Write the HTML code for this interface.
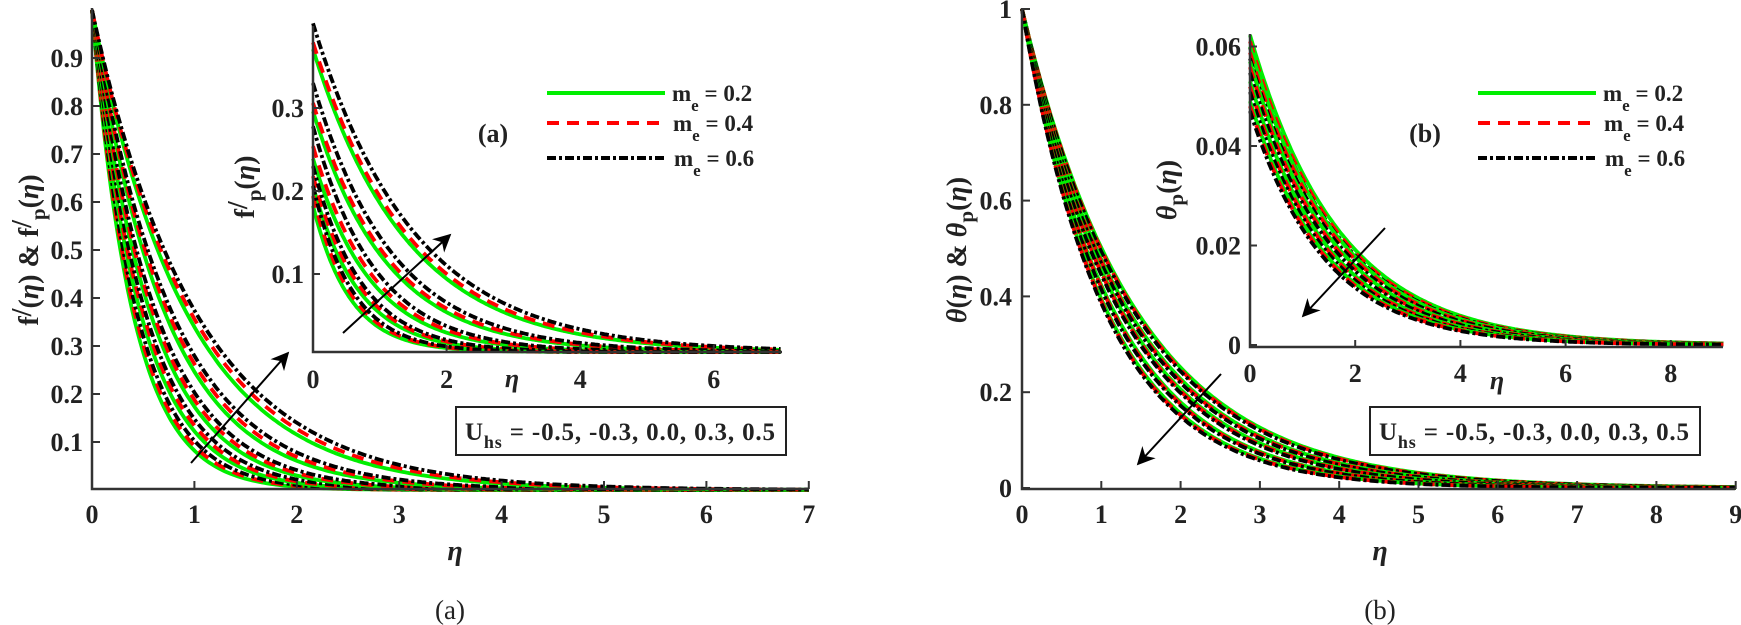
<!DOCTYPE html>
<html><head><meta charset="utf-8">
<style>
html,body{margin:0;padding:0;background:#fff;}
svg{display:block;}
text{font-family:"Liberation Serif","Times New Roman",serif;font-weight:bold;fill:#222;}
.it{font-style:italic;}
</style></head><body>
<svg id="s" width="1741" height="625" viewBox="0 0 1741 625" xmlns="http://www.w3.org/2000/svg">
<defs>
<marker id="ah" viewBox="0 0 10 10" refX="9" refY="5" markerWidth="9" markerHeight="9" orient="auto">
<path d="M0,0 L10,5 L0,10 L3,5 z" fill="#000"/></marker>
</defs>
<g id="curves"></g>

<g stroke="#333" stroke-width="2.5" fill="none">
<path d="M92,8 L92,489 L809,489"/>
<path d="M1022,8 L1022,489 L1735,489"/>
<path d="M313,26 L313,352 L782,352"/>
<path d="M1250,34 L1250,347 L1723,347"/>
</g>
<g id="ticks" stroke="#333" stroke-width="2"></g>

<text x="455" y="560" class="it" font-size="28" text-anchor="middle">η</text>
<text x="1380" y="560" class="it" font-size="28" text-anchor="middle">η</text>
<text x="450" y="619" font-size="27" text-anchor="middle" style="font-weight:normal">(a)</text>
<text x="1380" y="619" font-size="27" text-anchor="middle" style="font-weight:normal">(b)</text>

<text transform="translate(38,250) rotate(-90)" font-size="28" text-anchor="middle">f<tspan dy="-7">/</tspan><tspan dy="7">(</tspan><tspan class="it">η</tspan>) &amp; f<tspan dy="-7">/</tspan><tspan dy="14" font-size="21">p</tspan><tspan dy="-7">(</tspan><tspan class="it">η</tspan>)</text>
<text transform="translate(254,187) rotate(-90)" font-size="28" text-anchor="middle">f<tspan dy="-7">/</tspan><tspan dy="14" font-size="21">p</tspan><tspan dy="-7">(</tspan><tspan class="it">η</tspan>)</text>
<text transform="translate(966,250) rotate(-90)" font-size="28" text-anchor="middle"><tspan class="it">θ</tspan>(<tspan class="it">η</tspan>) &amp; <tspan class="it">θ</tspan><tspan dy="7" font-size="21">p</tspan><tspan dy="-7">(</tspan><tspan class="it">η</tspan>)</text>
<text transform="translate(1176,190) rotate(-90)" font-size="28" text-anchor="middle"><tspan class="it">θ</tspan><tspan dy="7" font-size="21">p</tspan><tspan dy="-7">(</tspan><tspan class="it">η</tspan>)</text>

<text x="512" y="387" class="it" font-size="26" text-anchor="middle">η</text>
<text x="1497" y="389" class="it" font-size="26" text-anchor="middle">η</text>

<text x="493" y="142" font-size="26" text-anchor="middle">(a)</text>
<text x="1425" y="142" font-size="26" text-anchor="middle">(b)</text>

<g stroke-width="4" fill="none">
<line x1="547" y1="93" x2="665" y2="93" stroke="#00ee00"/>
<line x1="547" y1="123" x2="665" y2="123" stroke="#ff0000" stroke-dasharray="12,8"/>
<line x1="547" y1="158" x2="665" y2="158" stroke="#000" stroke-dasharray="9,3,3,3"/>
<line x1="1478" y1="93" x2="1596" y2="93" stroke="#00ee00"/>
<line x1="1478" y1="123" x2="1596" y2="123" stroke="#ff0000" stroke-dasharray="12,8"/>
<line x1="1478" y1="158" x2="1596" y2="158" stroke="#000" stroke-dasharray="9,3,3,3"/>
</g>
<g font-size="23">
<text x="672" y="101">m<tspan dy="10" font-size="17">e</tspan><tspan dy="-10"> = 0.2</tspan></text>
<text x="673" y="131">m<tspan dy="10" font-size="17">e</tspan><tspan dy="-10"> = 0.4</tspan></text>
<text x="674" y="166">m<tspan dy="10" font-size="17">e</tspan><tspan dy="-10"> = 0.6</tspan></text>
<text x="1603" y="101">m<tspan dy="10" font-size="17">e</tspan><tspan dy="-10"> = 0.2</tspan></text>
<text x="1604" y="131">m<tspan dy="10" font-size="17">e</tspan><tspan dy="-10"> = 0.4</tspan></text>
<text x="1605" y="166">m<tspan dy="10" font-size="17">e</tspan><tspan dy="-10"> = 0.6</tspan></text>
</g>

<rect x="456" y="407" width="330" height="48" fill="#fff" stroke="#222" stroke-width="2"/>
<text x="465" y="440" font-size="25" textLength="310">U<tspan dy="8" font-size="18">hs</tspan><tspan dy="-8"> = -0.5, -0.3, 0.0, 0.3, 0.5</tspan></text>
<rect x="1370" y="407" width="330" height="48" fill="#fff" stroke="#222" stroke-width="2"/>
<text x="1379" y="440" font-size="25" textLength="310">U<tspan dy="8" font-size="18">hs</tspan><tspan dy="-8"> = -0.5, -0.3, 0.0, 0.3, 0.5</tspan></text>

<g stroke="#000" stroke-width="2" marker-end="url(#ah)">
<line x1="191" y1="463" x2="288" y2="353"/>
<line x1="343" y1="333" x2="450" y2="235"/>
<line x1="1221" y1="374" x2="1138" y2="464"/>
<line x1="1385" y1="228" x2="1303" y2="316"/>
</g>
</svg>
<script>
(function(){
var NS="http://www.w3.org/2000/svg";
var cg=document.getElementById('curves');
var styles=[["#00ee00",""],["#ff0000","12,8"],["#000","9,3,3,3"]];
function addPath(fn,x0,xs,y0,ys,xmax,st){
  var d="";
  for(var i=0;i<=300;i++){var e=xmax*i/300;var v=fn(e);
    d+=(i?"L":"M")+(x0+e*xs).toFixed(1)+","+(y0-v*ys).toFixed(1);}
  var p=document.createElementNS(NS,'path');
  p.setAttribute('d',d);p.setAttribute('fill','none');
  p.setAttribute('stroke',st[0]);p.setAttribute('stroke-width','3.8');
  if(st[1])p.setAttribute('stroke-dasharray',st[1]);
  cg.appendChild(p);
}
var kL=[2.5,2.1,1.75,1.4,1.08];
kL.forEach(function(k){[0,1,2].forEach(function(m){var kk=k*(1-0.045*m);
 addPath(function(e){return Math.exp(-kk*e)},92,102.4,490,480,7,styles[m]);});});
var g0=[[0.365,0.373,0.396],[0.29,0.30,0.324],[0.233,0.248,0.272],[0.2,0.212,0.224],[0.176,0.188,0.2]];
var kI=[0.71,0.9,1.15,1.45,1.8];
kI.forEach(function(k,i){[0,1,2].forEach(function(m){var a=g0[i][m],kk=k*(1-0.03*m);
 addPath(function(e){return a*Math.exp(-kk*e)+0.006},313,66.8,357,830,7,styles[m]);});});
var kR=[0.69,0.74,0.79,0.86,0.93];
kR.forEach(function(k){[0,1,2].forEach(function(m){var kk=k*(1+0.012*m);
 addPath(function(e){return Math.exp(-kk*e)},1022,79.3,488,479,9,styles[m]);});});
var s0=[0.0623,0.06,0.057,0.053,0.049];
var kP=[0.59,0.61,0.64,0.67,0.69];
kP.forEach(function(k,i){[0,1,2].forEach(function(m){var a=s0[i]*(1-0.02*m),kk=k*(1+0.01*m);
 addPath(function(e){return a*Math.exp(-kk*e)},1250,52.6,345,4975,9,styles[m]);});});

var tg=document.getElementById('ticks');
function tick(x1,y1,x2,y2){var l=document.createElementNS(NS,'line');
 l.setAttribute('x1',x1);l.setAttribute('y1',y1);l.setAttribute('x2',x2);l.setAttribute('y2',y2);tg.appendChild(l);}
var s=document.getElementById('s');
function txt(x,y,t,anchor,size){var e=document.createElementNS(NS,'text');
 e.setAttribute('x',x);e.setAttribute('y',y);e.setAttribute('text-anchor',anchor);
 e.setAttribute('font-size',size||26);e.textContent=t;s.appendChild(e);}
for(var i=1;i<=9;i++){var y=490-i*48;tick(92,y,100,y);txt(83,y+9,"0."+i,"end");}
for(var i=0;i<=7;i++){var x=92+i*102.4;tick(x,489,x,481);txt(x,523,""+i,"middle");}
var rl=["0","0.2","0.4","0.6","0.8","1"];
for(var i=0;i<=5;i++){var y=488-i*95.8;tick(1022,y,1030,y);txt(1012,y+9,rl[i],"end");}
for(var i=0;i<=9;i++){var x=1022+i*79.3;tick(x,489,x,481);txt(x,523,""+i,"middle");}
[0.1,0.2,0.3].forEach(function(v){var y=357-v*830;tick(313,y,320,y);txt(304,y+9,""+v,"end");});
[0,2,4,6].forEach(function(v){var x=313+v*66.8;tick(x,352,x,345);txt(x,388,""+v,"middle");});
[[0,"0"],[0.02,"0.02"],[0.04,"0.04"],[0.06,"0.06"]].forEach(function(a){var y=345-a[0]*4975;tick(1250,y,1257,y);txt(1241,y+9,a[1],"end");});
[0,2,4,6,8].forEach(function(v){var x=1250+v*52.6;tick(x,347,x,340);txt(x,382,""+v,"middle");});
})();
</script>
</body></html>
